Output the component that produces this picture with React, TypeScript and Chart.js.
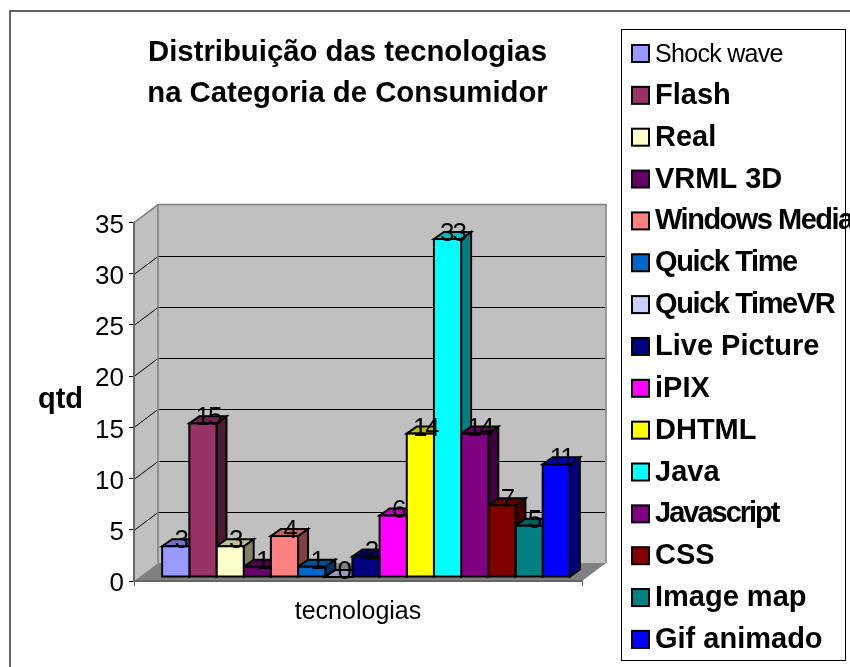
import React, { useEffect, useRef } from "react";
import { Chart, registerables } from "chart.js";

Chart.register(...registerables);

const technologies = ["Shock wave", "Flash", "Real", "VRML 3D", "Windows Media", "Quick Time", "Quick TimeVR", "Live Picture", "iPIX", "DHTML", "Java", "Javascript", "CSS", "Image map", "Gif animado"];
const quantities = [3, 15, 3, 1, 4, 1, 0, 2, 6, 14, 33, 14, 7, 5, 11];
const colors = ["#9999FF", "#993366", "#FFFFCC", "#660066", "#FF8080", "#0066CC", "#CCCCFF", "#000080", "#FF00FF", "#FFFF00", "#00FFFF", "#800080", "#800000", "#008080", "#0000FF"];
const titleLines = ["Distribuição das tecnologias", "na Categoria de Consumidor"];
const xTitle = "tecnologias";
const yTitle = "qtd";
const yMax = 35;
const yStep = 5;

const FONT = "'Liberation Sans', Arial, sans-serif";
const DEPTH_X = 24;
const DEPTH_Y = 18;
const BAR_DEPTH_X = 10;
const BAR_DEPTH_Y = 7;
const BAR_SHIFT_X = 8;
const BAR_SHIFT_Y = -4;
const BAR_LINE = 2;
const legendSpacing: Record<string, number> = { "Shock wave": -0.7, "Windows Media": -1.5, "Quick Time": -1.4, "Quick TimeVR": -1.4, Javascript: -2 };

function shade(hex: string, f: number) {
  const n = parseInt(hex.slice(1), 16);
  const c = [(n >> 16) & 255, (n >> 8) & 255, n & 255].map((v) => Math.round(v * f));
  return `rgb(${c[0]},${c[1]},${c[2]})`;
}

function poly(ctx: CanvasRenderingContext2D, pts: number[][], fill: string | null, stroke: string | null, lw = 1) {
  ctx.beginPath();
  pts.forEach((p, i) => (i ? ctx.lineTo(p[0], p[1]) : ctx.moveTo(p[0], p[1])));
  ctx.closePath();
  if (fill) { ctx.fillStyle = fill; ctx.fill(); }
  if (stroke) { ctx.strokeStyle = stroke; ctx.lineWidth = lw; ctx.lineJoin = "miter"; ctx.stroke(); }
}

const walls3d = {
  id: "walls3d",
  beforeDraw(chart: any) {
    const { ctx, chartArea: a, scales } = chart;
    const { left: l, right: r, top: t, bottom: b } = a;
    const dx = DEPTH_X, dy = DEPTH_Y;
    ctx.save();
    // outer chart frame
    ctx.strokeStyle = "#333";
    ctx.lineWidth = 1.5;
    ctx.beginPath();
    ctx.moveTo(10, 667);
    ctx.lineTo(10, 11);
    ctx.lineTo(850, 11);
    ctx.stroke();
    poly(ctx, [[l, t], [l + dx, t - dy], [l + dx, b - dy], [l, b]], "#C0C0C0", null);
    poly(ctx, [[l + dx, t - dy], [r + dx, t - dy], [r + dx, b - dy], [l + dx, b - dy]], "#C0C0C0", null);
    poly(ctx, [[l, b], [l + dx, b - dy], [r + dx, b - dy], [r, b]], "#808080", null);
    ctx.strokeStyle = "#000";
    ctx.lineWidth = 1;
    scales.y.ticks.forEach((tk: any) => {
      if (tk.value === 0 || tk.value === yMax) return;
      const y = Math.round(scales.y.getPixelForValue(tk.value)) + 0.5;
      ctx.beginPath();
      ctx.moveTo(l, y);
      ctx.lineTo(l + dx, y - dy);
      ctx.lineTo(r + dx - 1, y - dy);
      ctx.stroke();
    });
    ctx.strokeStyle = "#808080";
    ctx.lineWidth = 1.5;
    ctx.beginPath();
    ctx.moveTo(l, t);
    ctx.lineTo(l + dx, t - dy);
    ctx.lineTo(r + dx, t - dy);
    ctx.lineTo(r + dx, b - dy);
    ctx.moveTo(l + dx, t - dy);
    ctx.lineTo(l + dx, b - dy);
    ctx.stroke();
    ctx.restore();
  },
  afterLayout(chart: any) {
    chart.titleBlock.left = 0;
    chart.titleBlock.right = 695;
    const y = chart.scales.y;
    if (!y.__wrapped) {
      y.__wrapped = true;
      const orig = y.drawLabels.bind(y);
      y.drawLabels = (area: any) => {
        chart.ctx.save();
        chart.ctx.translate(0, 3);
        orig(area);
        chart.ctx.restore();
      };
    }
  },
};

const bars3d = {
  id: "bars3d",
  // Sides and tops go first, from left to right; the native fronts then cover them.
  beforeDatasetsDraw(chart: any) {
    const { ctx } = chart;
    ctx.save();
    ctx.translate(BAR_SHIFT_X, BAR_SHIFT_Y);
    technologies.forEach((_, i) => {
      const el = chart.getDatasetMeta(i).data[0];
      const { x, y, base, width } = el.getProps(["x", "y", "base", "width"], true);
      const l = x - width / 2, r = x + width / 2;
      const dx = BAR_DEPTH_X, dy = BAR_DEPTH_Y;
      poly(ctx, [[r, y], [r + dx, y - dy], [r + dx, base - dy], [r, base]], shade(colors[i], 0.5), "#000", BAR_LINE);
      poly(ctx, [[l, y], [l + dx, y - dy], [r + dx, y - dy], [r, y]], shade(colors[i], 0.75), "#000", BAR_LINE);
    });
    ctx.restore();
  },
  beforeDatasetDraw(chart: any) {
    chart.ctx.save();
    chart.ctx.translate(BAR_SHIFT_X, BAR_SHIFT_Y);
  },
  afterDatasetDraw(chart: any, args: any) {
    const { ctx } = chart;
    const el = args.meta.data[0];
    const { x, y, base, width } = el.getProps(["x", "y", "base", "width"], true);
    ctx.strokeStyle = "#000";
    ctx.lineWidth = BAR_LINE;
    ctx.strokeRect(x - width / 2, y, width, base - y);
    ctx.restore();
  },
  afterDatasetsDraw(chart: any) {
    const { ctx } = chart;
    ctx.save();
    ctx.font = `26px ${FONT}`;
    ctx.fillStyle = "#000";
    ctx.textAlign = "center";
    ctx.textBaseline = "alphabetic";
    (ctx as any).letterSpacing = "-2px";
    chart.data.datasets.forEach((ds: any, i: number) => {
      const el = chart.getDatasetMeta(i).data[0];
      const { x, y } = el.getProps(["x", "y"], true);
      ctx.fillText(String(ds.data[0]), x + BAR_SHIFT_X + 5, y + BAR_SHIFT_Y + 2);
    });
    ctx.restore();
  },
};

const extras = {
  id: "extras",
  afterDraw(chart: any) {
    const { ctx } = chart;
    ctx.save();
    // y axis title, horizontal
    ctx.font = `bold 29px ${FONT}`;
    ctx.fillStyle = "#000";
    ctx.textAlign = "left";
    ctx.textBaseline = "alphabetic";
    ctx.fillText(yTitle, 38, 408);
    // legend
    ctx.strokeStyle = "#000";
    ctx.lineWidth = 1;
    ctx.strokeRect(621.5, 29.5, 224, 631);
    technologies.forEach((name, i) => {
      const base = 62 + 41.85 * i;
      ctx.fillStyle = colors[i];
      ctx.fillRect(632, base - 17, 17, 17);
      ctx.strokeStyle = "#000";
      ctx.lineWidth = 2;
      ctx.strokeRect(632, base - 17, 17, 17);
      ctx.fillStyle = "#000";
      ctx.font = i === 0 ? `25px ${FONT}` : `bold 29px ${FONT}`;
      (ctx as any).letterSpacing = `${legendSpacing[name] ?? 0}px`;
      ctx.fillText(name, 655, base);
    });
    ctx.restore();
  },
};

export default function App() {
  const ref = useRef<HTMLCanvasElement>(null);
  useEffect(() => {
    document.body.style.margin = "0";
    const chart = new Chart(ref.current as HTMLCanvasElement, {
      type: "bar",
      data: {
        labels: [""],
        datasets: technologies.map((name, i) => ({
          label: name,
          data: [quantities[i]],
          backgroundColor: colors[i],
          borderWidth: 0,
          clip: false,
          categoryPercentage: 0.91,
          barPercentage: 1,
        })),
      },
      options: {
        responsive: false,
        animation: false,
        devicePixelRatio: 1,
        layout: { padding: { left: 0, right: 268, top: 0, bottom: 0 } },
        plugins: {
          legend: { display: false },
          tooltip: { enabled: false },
          title: {
            display: true,
            text: titleLines,
            color: "#000",
            font: { family: FONT, size: 29.3, weight: "bold", lineHeight: 1.4 },
            padding: { top: 32.5, bottom: 108 },
          },
        },
        scales: {
          x: {
            grid: { drawOnChartArea: false, offset: true, tickLength: 5, color: "#555", lineWidth: 1 },
            border: { color: "#666", width: 2 },
            ticks: { display: true },
            title: { display: true, text: xTitle, color: "#000", font: { family: FONT, size: 25 }, padding: { top: 0, bottom: 40 } },
            afterFit: (s: any) => { s.height = 86; },
          },
          y: {
            min: 0,
            max: yMax,
            grid: { drawOnChartArea: false, tickLength: 5, color: "#000", lineWidth: 1 },
            border: { color: "#666", width: 2 },
            ticks: { stepSize: yStep, color: "#000", font: { family: FONT, size: 26 }, padding: 5 },
            afterFit: (s: any) => { s.width = 134; },
          },
        },
      } as any,
      plugins: [walls3d, bars3d, extras],
    });
    return () => chart.destroy();
  }, []);
  return <canvas ref={ref} width={850} height={667} style={{ display: "block" }} />;
}
